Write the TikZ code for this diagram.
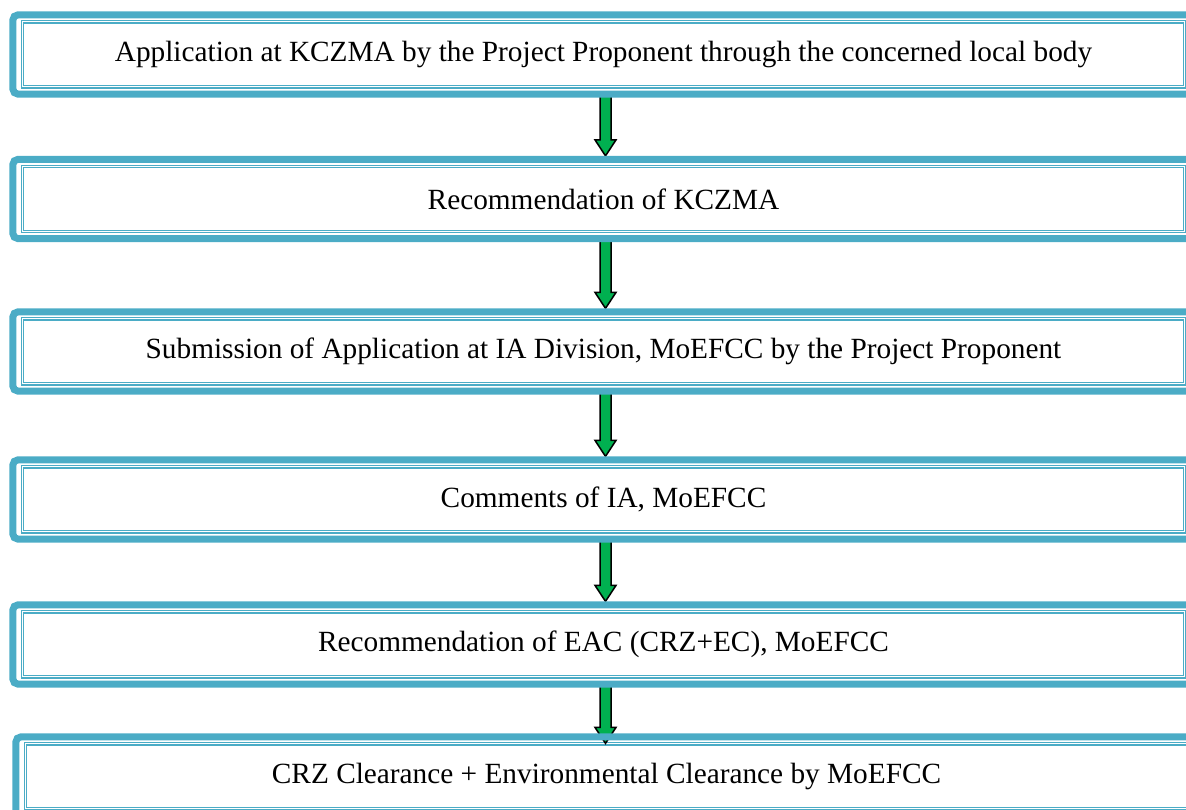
\documentclass[tikz,border=0pt]{standalone}
\usepackage{fontspec}
\setmainfont{Liberation Serif}
\usetikzlibrary{calc}
\definecolor{boxblue}{HTML}{4BACC6}
\definecolor{arrgreen}{HTML}{00B050}
\begin{document}
\begin{tikzpicture}[x=1pt,y=1pt,
  stepbox/.style={draw=boxblue, double=white, line width=1.2pt, double distance=1pt,
    minimum width=1162pt, minimum height=65pt, inner sep=0pt,
    font=\fontsize{29.3}{35}\selectfont, text=black},
  outerframe/.style={draw=boxblue, line width=7pt, rounded corners=5pt},
  flowarrow/.style={fill=arrgreen, draw=black, line width=1.5pt, line join=miter}]
\useasboundingbox (0,0) rectangle (1186,810);
\clip (0,0) rectangle (1186,810);
\node[stepbox] (b1) at (603.5,755.5) {Application at KCZMA by the Project Proponent through the concerned local body};
\node[stepbox] (b2) at (603.5,611) {Recommendation of KCZMA};
\node[stepbox] (b3) at (603.5,458.5) {Submission of Application at IA Division, MoEFCC by the Project Proponent};
\node[stepbox] (b4) at (603.5,310.5) {Comments of IA, MoEFCC};
\node[stepbox] (b5) at (603.5,165.5) {Recommendation of EAC (CRZ+EC), MoEFCC};
\node[stepbox] (b6) at (606.5,33.5) {CRZ Clearance + Environmental Clearance by MoEFCC};
% arrows
\foreach \a/\b/\o in {b1/b2/10,b2/b3/10,b3/b4/10,b4/b5/10,b5/b6/0} {
  \coordinate (s) at ($(\a.south)+(2,-8)$);
  \coordinate (tt) at ($(\b.north)+(0,\o)$);
  \coordinate (t) at (s |- tt);
  \filldraw[flowarrow] ($(s)+(-5.5,0)$) -- ($(t)+(-5.5,16)$) -- ($(t)+(-10.5,16)$) -- (t)
    -- ($(t)+(10.5,16)$) -- ($(t)+(5.5,16)$) -- ($(s)+(5.5,0)$) -- cycle;
}
% outer frames
\foreach \n in {b1,b2,b3,b4,b5,b6} {
  \draw[outerframe] ($(\n.south west)+(-9,-6.5)$) rectangle ($(\n.north east)+(40,6.5)$);
}
\end{tikzpicture}
\end{document}
